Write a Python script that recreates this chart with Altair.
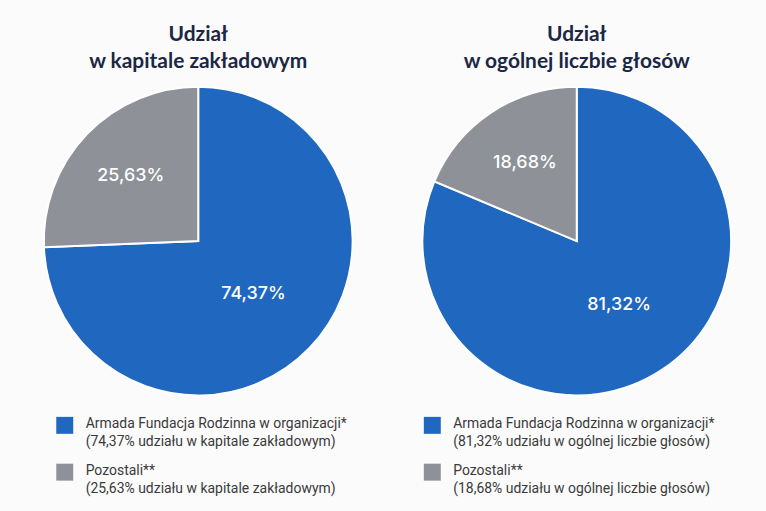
import altair as alt
import pandas as pd

categories = ["Armada Fundacja Rodzinna w organizacji*", "Pozostali**"]
capital_shares = [74.37, 25.63]
vote_shares = [81.32, 18.68]
capital_notes = ["(74,37% udziału w kapitale zakładowym)", "(25,63% udziału w kapitale zakładowym)"]
vote_notes = ["(81,32% udziału w ogólnej liczbie głosów)", "(18,68% udziału w ogólnej liczbie głosów)"]
capital_title = ["Udział", "w kapitale zakładowym"]
vote_title = ["Udział", "w ogólnej liczbie głosów"]
colors = ["#1f67bf", "#8e9298"]


def panel(shares, notes, title, legend_x):
    legend_labels = [c + "\n" + n for c, n in zip(categories, notes)]
    df = pd.DataFrame({
        "kategoria": legend_labels,
        "udzial": shares,
        "kolejnosc": list(range(len(shares))),
        "etykieta": [f"{v:.2f}%".replace(".", ",") for v in shares],
    })
    total = float(sum(shares))
    theta_scale = alt.Scale(domain=[0, total], range=[0, 6.283185307179586])
    base = alt.Chart(df).transform_window(
        kum="sum(udzial)", sort=[alt.SortField("kolejnosc", order="ascending")],
        frame=[None, 0],
    ).transform_calculate(
        start="datum.kum - datum.udzial",
        srodek="datum.kum - datum.udzial / 2",
    )
    arc = base.mark_arc(radius=155, stroke="white", strokeWidth=2).encode(
        theta=alt.Theta("start:Q", scale=theta_scale),
        theta2="kum:Q",
        color=alt.Color(
            "kategoria:N",
            scale=alt.Scale(domain=legend_labels, range=colors),
            sort=legend_labels,
            legend=alt.Legend(
                title=None,
                orient="none",
                legendX=legend_x,
                legendY=333,
                padding=0,
                symbolType="square",
                symbolSize=290,
                symbolStrokeWidth=0,
                symbolOpacity=1,
                labelFont="Roboto",
                labelFontSize=14,
                labelColor="#3a3a3a",
                labelLimit=400,
                labelOffset=12,
                labelBaseline="middle",
                rowPadding=14,
                labelExpr="split(datum.label, '\\n')",
            ),
        ),
    )
    text = base.mark_text(
        font="Inter", fontSize=18, fontWeight=500, color="white",
        align="center", baseline="middle",
    ).encode(
        theta=alt.Theta("srodek:Q", scale=theta_scale),
        text="etykieta:N",
        radius=alt.Radius("kolejnosc:Q", scale=alt.Scale(type="linear", domain=[0, 1], range=[77, 94], zero=False)),
    )
    return alt.layer(arc, text).properties(
        width=380,
        height=314,
        title=alt.TitleParams(
            text=title, font="Lato", fontSize=21, fontWeight="bold",
            color="#1b2744", lineHeight=27, anchor="middle", offset=11,
        ),
    )


chart = alt.hconcat(
    panel(capital_shares, capital_notes, capital_title, 47),
    panel(vote_shares, vote_notes, vote_title, 36),
    spacing=0,
).resolve_scale(color="independent", theta="independent", radius="independent").configure(
    background="#fbfbfb",
    padding={"left": 9, "top": 23, "right": 0, "bottom": 20},
    style={"guide-label": {"dy": -1, "lineHeight": 18}},
).configure_view(stroke=None)

chart.save("out.html", embed_options={"renderer": "svg", "actions": False})
